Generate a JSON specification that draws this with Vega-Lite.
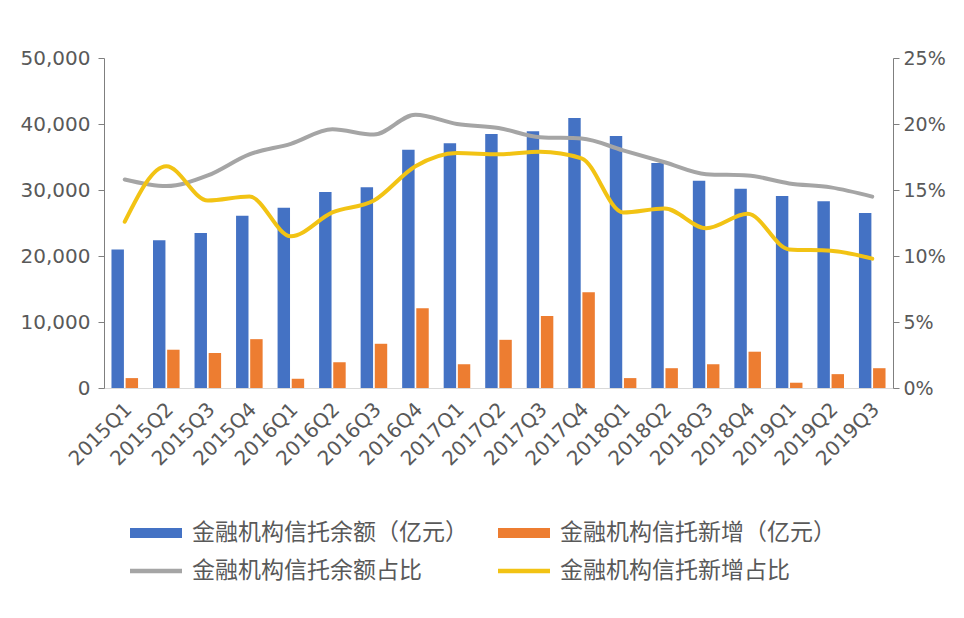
{
  "$schema": "https://vega.github.io/schema/vega-lite/v6.json",
  "width": 789,
  "height": 330,
  "autosize": {"type": "none"},
  "padding": {"left": 104, "top": 58, "right": 71, "bottom": 230},
  "background": "white",
  "config": {
    "view": {"stroke": null},
    "font": "Noto Sans CJK SC",
    "axis": {"grid": false, "labelColor": "#595959", "domainColor": "#7f7f7f", "tickColor": "#7f7f7f", "labelFont": "DejaVu Sans", "titleColor": "#595959"}
  },
  "data": {
    "values": [
      {"q": "2015Q1", "balance": 21000, "newAdd": 1500, "balanceShare": 15.8, "newShare": 12.6},
      {"q": "2015Q2", "balance": 22400, "newAdd": 5800, "balanceShare": 15.3, "newShare": 16.8},
      {"q": "2015Q3", "balance": 23500, "newAdd": 5300, "balanceShare": 16.1, "newShare": 14.2},
      {"q": "2015Q4", "balance": 26100, "newAdd": 7400, "balanceShare": 17.7, "newShare": 14.5},
      {"q": "2016Q1", "balance": 27300, "newAdd": 1400, "balanceShare": 18.5, "newShare": 11.5},
      {"q": "2016Q2", "balance": 29700, "newAdd": 3900, "balanceShare": 19.6, "newShare": 13.3},
      {"q": "2016Q3", "balance": 30400, "newAdd": 6700, "balanceShare": 19.2, "newShare": 14.2},
      {"q": "2016Q4", "balance": 36100, "newAdd": 12100, "balanceShare": 20.7, "newShare": 16.8},
      {"q": "2017Q1", "balance": 37100, "newAdd": 3600, "balanceShare": 20.0, "newShare": 17.8},
      {"q": "2017Q2", "balance": 38500, "newAdd": 7300, "balanceShare": 19.7, "newShare": 17.7},
      {"q": "2017Q3", "balance": 38900, "newAdd": 10900, "balanceShare": 19.0, "newShare": 17.9},
      {"q": "2017Q4", "balance": 40900, "newAdd": 14500, "balanceShare": 18.9, "newShare": 17.4},
      {"q": "2018Q1", "balance": 38200, "newAdd": 1500, "balanceShare": 18.0, "newShare": 13.3},
      {"q": "2018Q2", "balance": 34100, "newAdd": 3000, "balanceShare": 17.1, "newShare": 13.6},
      {"q": "2018Q3", "balance": 31400, "newAdd": 3600, "balanceShare": 16.2, "newShare": 12.1},
      {"q": "2018Q4", "balance": 30200, "newAdd": 5500, "balanceShare": 16.1, "newShare": 13.2},
      {"q": "2019Q1", "balance": 29100, "newAdd": 800, "balanceShare": 15.5, "newShare": 10.5},
      {"q": "2019Q2", "balance": 28300, "newAdd": 2100, "balanceShare": 15.2, "newShare": 10.4},
      {"q": "2019Q3", "balance": 26500, "newAdd": 3000, "balanceShare": 14.5, "newShare": 9.8}
    ]
  },
  "encoding": {
    "x": {
      "field": "q", "type": "nominal", "sort": null,
      "scale": {"paddingInner": 0.36, "paddingOuter": 0.18},
      "axis": {"title": null, "labelAngle": -45, "labelAlign": "right", "labelBaseline": "middle", "labelFontSize": 20, "ticks": false, "labelPadding": 18, "labelOffset": 4, "domainColor": "#d9d9d9"}
    },
    "color": {
      "field": "series", "type": "nominal",
      "scale": {"domain": ["balance", "newAdd", "balanceShare", "newShare"], "range": ["#4472C4", "#ED7D31", "#A5A5A5", "#F2C314"]},
      "legend": {
        "title": null, "orient": "none", "legendX": 26, "legendY": 449, "columns": 2, "direction": "horizontal",
        "labelFontSize": 23, "labelColor": "#595959", "labelFont": "Noto Sans CJK SC", "labelLimit": 400, "labelOffset": 10,
        "columnPadding": 30, "rowPadding": 0,
        "symbolSize": 2704, "symbolType": "M-1,-0.19H1V0.19H-1Z", "symbolStrokeWidth": 0,
        "labelExpr": "datum.value == 'balance' ? '金融机构信托余额（亿元）' : datum.value == 'newAdd' ? '金融机构信托新增（亿元）' : datum.value == 'balanceShare' ? '金融机构信托余额占比' : '金融机构信托新增占比'",
        "encode": {
          "symbols": {
            "update": {
              "shape": {"signal": "indexof(datum.value, 'Share') >= 0 ? 'M-1,-0.09H1V0.09H-1Z' : 'M-1,-0.19H1V0.19H-1Z'"}
            }
          }
        }
      }
    }
  },
  "layer": [
    {
      "transform": [{"fold": ["balance", "newAdd"], "as": ["series", "value"]}],
      "mark": {"type": "bar"},
      "encoding": {
        "xOffset": {"field": "series", "type": "nominal", "sort": ["balance", "newAdd"], "scale": {"paddingInner": 0.12}},
        "y": {
          "field": "value", "type": "quantitative",
          "scale": {"domain": [0, 50000], "nice": false},
          "axis": {"title": null, "values": [0, 10000, 20000, 30000, 40000, 50000], "format": ",d", "labelFontSize": 20, "tickSize": 6, "labelPadding": 8}
        }
      }
    },
    {
      "transform": [{"fold": ["balanceShare", "newShare"], "as": ["series", "pct"]}],
      "mark": {"type": "line", "interpolate": "monotone", "strokeWidth": 4, "strokeCap": "round"},
      "encoding": {
        "y": {
          "field": "pct", "type": "quantitative",
          "scale": {"domain": [0, 25], "nice": false},
          "axis": {"title": null, "orient": "right", "values": [0, 5, 10, 15, 20, 25], "labelExpr": "datum.value + '%'", "labelFontSize": 19, "tickSize": 6, "labelPadding": 4}
        }
      }
    }
  ],
  "resolve": {"scale": {"y": "independent"}}
}
